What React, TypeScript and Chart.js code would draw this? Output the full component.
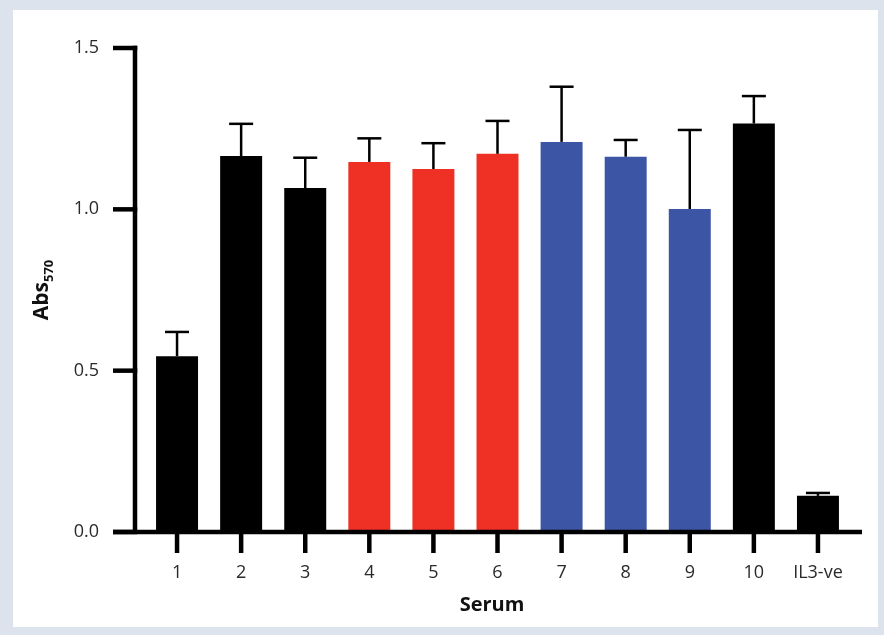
import React, { useEffect, useRef } from "react";
import { Chart, registerables } from "chart.js";

Chart.register(...registerables);

const categories = ["1", "2", "3", "4", "5", "6", "7", "8", "9", "10", "IL3-ve"];
const means = [0.545, 1.165, 1.066, 1.147, 1.125, 1.172, 1.209, 1.163, 1.001, 1.266, 0.112];
const errors = [0.075, 0.1, 0.094, 0.073, 0.08, 0.102, 0.171, 0.052, 0.245, 0.085, 0.009];
const BLACK = "#000000";
const RED = "#ee3124";
const BLUE = "#3c55a5";
const barColors = [BLACK, BLACK, BLACK, RED, RED, RED, BLUE, BLUE, BLUE, BLACK, BLACK];
const yTicks = [0, 0.5, 1.0, 1.5];

const FONT = "'Open Sans', 'Liberation Sans', sans-serif";

const framePlugin = {
  id: "frame",
  beforeDraw(chart: any) {
    const ctx = chart.ctx;
    ctx.save();
    ctx.fillStyle = "#dde3ec";
    ctx.fillRect(0, 0, chart.width, chart.height);
    ctx.fillStyle = "#ffffff";
    ctx.fillRect(13, 10, 865, 617);
    ctx.restore();
  },
};

const axesPlugin = {
  id: "axesDeco",
  afterDatasetsDraw(chart: any) {
    const ctx = chart.ctx;
    const x = chart.scales.x;
    const y = chart.scales.y;
    const ca = chart.chartArea;
    const meta = chart.getDatasetMeta(0);
    ctx.save();
    // error bars
    ctx.strokeStyle = "#000";
    ctx.lineWidth = 2.5;
    meta.data.forEach((bar: any, i: number) => {
      const top = y.getPixelForValue(means[i] + errors[i]);
      const base = y.getPixelForValue(means[i]);
      ctx.beginPath();
      ctx.moveTo(bar.x, base);
      ctx.lineTo(bar.x, top);
      ctx.stroke();
      ctx.beginPath();
      ctx.moveTo(bar.x - 12, top);
      ctx.lineTo(bar.x + 12, top);
      ctx.stroke();
    });
    // axes
    const lw = 4.5;
    ctx.lineWidth = lw;
    ctx.lineCap = "butt";
    const y0 = y.getPixelForValue(0);
    const yTop = y.getPixelForValue(1.5);
    const axX = ca.left - 10;
    ctx.beginPath();
    ctx.moveTo(axX, yTop - lw / 2);
    ctx.lineTo(axX, y0);
    ctx.stroke();
    yTicks.forEach((v) => {
      const py = y.getPixelForValue(v);
      ctx.beginPath();
      ctx.moveTo(axX - 22, py);
      ctx.lineTo(axX + lw / 2, py);
      ctx.stroke();
    });
    ctx.beginPath();
    ctx.moveTo(ca.left - 32, y0);
    ctx.lineTo(ca.right + 12, y0);
    ctx.stroke();
    categories.forEach((_, i) => {
      const px = x.getPixelForValue(i);
      ctx.beginPath();
      ctx.moveTo(px, y0);
      ctx.lineTo(px, y0 + 21);
      ctx.stroke();
    });
    // titles
    ctx.fillStyle = "#111";
    ctx.font = `bold 20px ${FONT}`;
    ctx.textAlign = "center";
    ctx.textBaseline = "middle";
    ctx.fillText("Serum", 492, 605);
    ctx.translate(42, 290);
    ctx.rotate(-Math.PI / 2);
    ctx.font = `bold 21px ${FONT}`;
    const w1 = ctx.measureText("Abs").width;
    ctx.font = `bold 13px ${FONT}`;
    const w2 = ctx.measureText("570").width;
    const start = -(w1 + w2) / 2;
    ctx.textAlign = "left";
    ctx.font = `bold 21px ${FONT}`;
    ctx.fillText("Abs", start, 0);
    ctx.font = `bold 13px ${FONT}`;
    ctx.fillText("570", start + w1, 7);
    ctx.restore();
  },
};

export default function App() {
  const ref = useRef<HTMLCanvasElement>(null);
  useEffect(() => {
    if (!ref.current) return;
    const chart = new Chart(ref.current, {
      type: "bar",
      data: {
        labels: categories,
        datasets: [
          {
            data: means,
            backgroundColor: barColors,
            borderWidth: 0,
            barPercentage: 0.655,
            categoryPercentage: 1,
          },
        ],
      },
      options: {
        animation: false,
        responsive: false,
        devicePixelRatio: 1,
        layout: { padding: { left: 0, top: 48, right: 34, bottom: 0 } },
        plugins: { legend: { display: false }, tooltip: { enabled: false } },
        scales: {
          x: {
            type: "category",
            offset: true,
            grid: { display: false, drawTicks: false },
            border: { display: false },
            ticks: {
              padding: 30,
              color: "#2a2a2a",
              font: { family: FONT, size: 18 },
              maxRotation: 0,
              autoSkip: false,
            },
            afterFit: (s: any) => {
              s.height = 103;
              s.paddingLeft = 0;
              s.paddingRight = 0;
            },
          },
          y: {
            min: 0,
            max: 1.5,
            grid: { display: false, drawTicks: false },
            border: { display: false },
            afterBuildTicks: (s: any) => {
              s.ticks = yTicks.map((v) => ({ value: v }));
            },
            ticks: {
              padding: 46,
              color: "#2a2a2a",
              font: { family: FONT, size: 18 },
              callback: (v: any) => Number(v).toFixed(1),
            },
            afterFit: (s: any) => {
              s.width = 145;
              s.paddingTop = 0;
              s.paddingBottom = 0;
            },
          },
        },
      },
      plugins: [framePlugin, axesPlugin],
    });
    return () => chart.destroy();
  }, []);
  return (
    <div style={{ position: "fixed", left: 0, top: 0, width: 884, height: 635 }}>
      <canvas ref={ref} width={884} height={635} style={{ width: 884, height: 635 }} />
    </div>
  );
}
